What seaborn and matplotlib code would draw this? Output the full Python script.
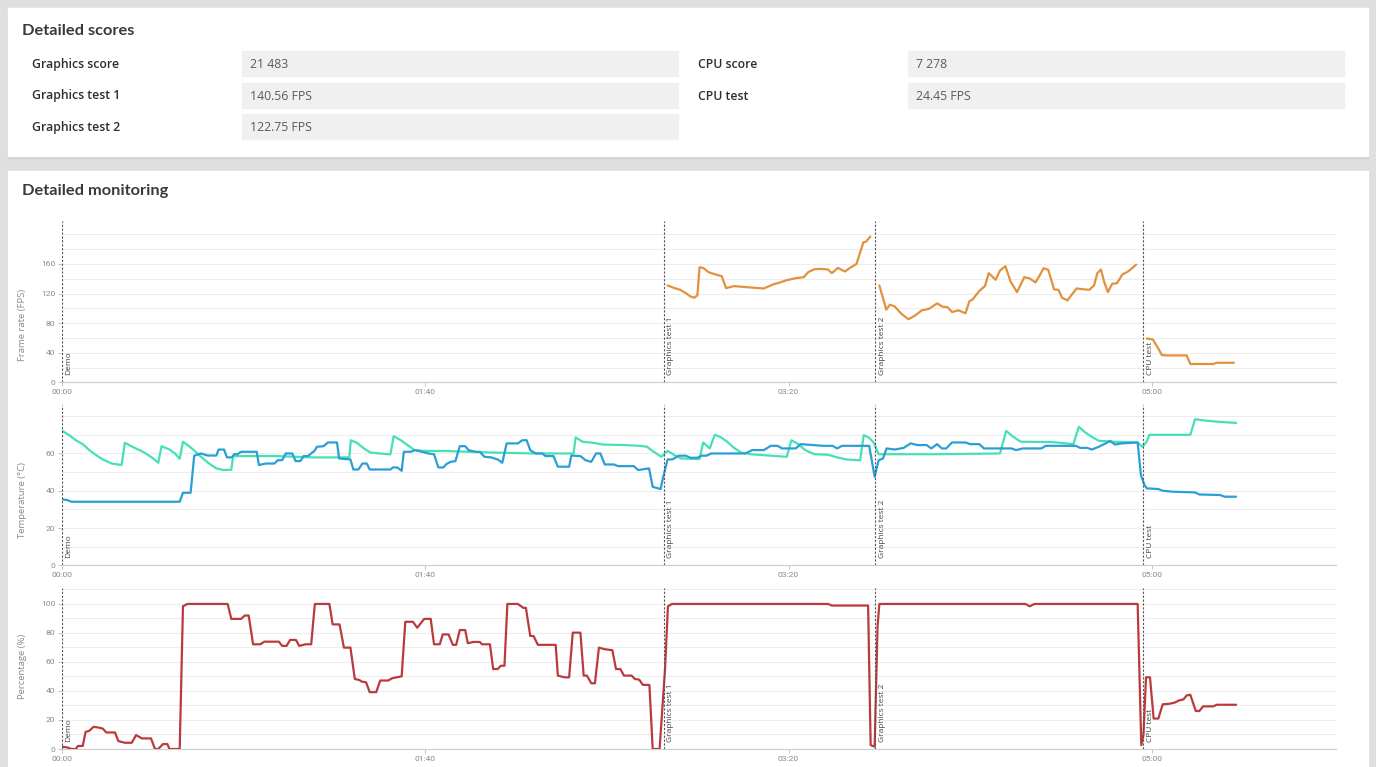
import numpy as np
import pandas as pd
import seaborn as sns
import matplotlib.pyplot as plt
from matplotlib.patches import Rectangle

# ---- scores panel ----
score_labels_left = ['Graphics score', 'Graphics test 1', 'Graphics test 2']
score_values_left = ['21 483', '140.56 FPS', '122.75 FPS']
score_labels_right = ['CPU score', 'CPU test']
score_values_right = ['7 278', '24.45 FPS']

# ---- monitoring ----
marker_names = ['Demo', 'Graphics test 1', 'Graphics test 2', 'CPU test']
marker_times = [0, 165.7, 223.9, 297.7]

x_ticks = [0, 100, 200, 300]
x_tick_labels = ['00:00', '01:40', '03:20', '05:00']

# (seconds, FPS)
fps_gt1 = [(166.7, 130.9), (168.6, 127.3), (170.2, 125), (171.7, 120.6), (173, 116), (174, 114.3),
           (174.9, 117.4), (175.5, 155.5), (176.5, 154.6), (178, 148.8), (179.9, 145.7), (181.6, 143.4),
           (182.8, 127.3), (185, 130), (189.4, 128.2), (193.2, 126.8), (195.7, 132.2), (197.6, 134.9),
           (199.5, 138), (202, 140.7), (204.2, 142.1), (205.4, 148.8), (207.1, 152.8), (209, 153.3),
           (210.9, 152.4), (211.9, 147.5), (213.6, 154.6), (215.5, 149.7), (216.9, 154.6), (218.7, 160),
           (220.6, 189.2), (221.3, 190), (222.5, 196.8)]
fps_gt2 = [(225, 130.9), (226.9, 98.2), (227.9, 104.9), (229.2, 102.6), (231, 92.8), (233, 85.2),
           (234.9, 90.5), (236.7, 97.3), (238.6, 99.1), (240.9, 106.7), (242.4, 102.2), (243.7, 101.7),
           (245, 95), (246.8, 97.3), (248.7, 93.2), (249.8, 109.8), (250.6, 111.6), (252.5, 123.3),
           (254.1, 130.4), (255.1, 147.5), (257, 138.5), (258.2, 151), (259.7, 156.9), (261.1, 136.3),
           (262.9, 121.9), (264.9, 142.1), (266.4, 140.3), (268, 134.9), (269.2, 145.2), (270.2, 154.2),
           (271.5, 152), (273.1, 125.5), (274.3, 125), (275.3, 114.3), (276.8, 110.7), (277.8, 117.4),
           (279.3, 126.8), (281.6, 125.5), (282.8, 125), (284.1, 130.9), (285, 147.5), (286, 152.4),
           (286.9, 135.4), (287.9, 121.9), (289.1, 133.1), (290.4, 134), (291.9, 145.7), (293.6, 150.2),
           (295.7, 159.1)]
fps_cpu = [(298.6, 59.2), (300.3, 57.8), (301.5, 48), (302.8, 36.8), (304.3, 36.3), (309.6, 36.3),
           (310.6, 24.7), (316.9, 24.7), (317.9, 26.4), (322.6, 26.4)]

# (seconds, deg C)
temp_cpu = [(0.1, 72.1), (2, 69.8), (3.8, 67.1), (5.7, 65), (7.5, 61.8), (9.4, 59.1), (11.2, 56.8),
            (13.7, 54.6), (16.4, 53.8), (17.3, 65.7), (19.8, 63.2), (22.3, 60.9), (24.7, 57.9), (26.5, 55),
            (27.4, 63.9), (29.6, 62.1), (31.1, 60), (32.4, 57.1), (33.3, 66.3), (35.2, 63.6), (37, 60.5),
            (38.8, 57.3), (40.7, 54.3), (42.5, 52), (44.4, 51.1), (46.6, 51.3), (47.1, 58.6), (59.1, 58.6),
            (68.9, 57.9), (79.1, 57.9), (79.5, 67.1), (81.2, 65.7), (83.1, 62.7), (84.9, 60.5), (87.4, 60),
            (90.4, 59.5), (91.3, 69.3), (93.5, 66.8), (95.4, 64.1), (97, 61.8), (99.7, 61.4), (105.8, 61.3),
            (118.1, 60.5), (130.4, 60), (140.8, 60), (141.4, 68.6), (143.3, 66.3), (146.4, 65.7),
            (148.8, 64.8), (155, 64.5), (159.1, 64.1), (161, 63.6), (162.9, 60.9), (165, 58.2),
            (166.7, 61.4), (168.6, 59.1), (170.5, 57.3), (175.5, 57), (176.5, 65.9), (178.3, 62.7),
            (179.7, 70), (181.2, 68.9), (183.1, 66.3), (185, 63), (186.9, 60.5), (189.4, 59.6),
            (194.5, 58.9), (199.5, 58.2), (200.8, 67.1), (202.7, 65), (204.6, 61.8), (207.1, 59.6),
            (210.9, 59.3), (213.4, 57.9), (215.9, 56.8), (219.7, 56.3), (220.7, 69.8), (222.2, 68.4),
            (223.5, 65.7), (224.8, 59.6), (241.2, 59.6), (258.2, 60), (259.9, 72.1), (261.6, 69.3),
            (263.9, 66.3), (272.7, 66.1), (278.4, 65), (279.9, 74.3), (281.6, 71.4), (283.5, 68.9),
            (285.4, 66.8), (289.2, 66.3), (296.1, 65.9), (297.4, 63.6), (298.6, 66.3), (299.3, 70),
            (310.6, 70), (311.9, 78.4), (314.4, 77.7), (318.2, 77), (323.2, 76.4)]
temp_gpu = [(0.1, 35.4), (1.4, 35), (2.6, 34.1), (32.4, 34.1), (33.3, 38.9), (35.4, 38.9), (36.4, 58.8),
            (38.2, 60), (40.1, 58.9), (42.5, 58.9), (43.1, 62.1), (44.6, 62.1), (45.4, 57.9), (46.8, 57.9),
            (47.4, 59.6), (48.3, 59.6), (49.3, 60.9), (53.6, 60.9), (54.2, 53.8), (56.1, 54.6), (58.5, 54.6),
            (59.4, 56.4), (60.6, 56.4), (61.6, 60), (63.4, 60), (64.3, 55.9), (65.6, 55.9), (66.5, 58.6),
            (67.7, 58.6), (68.6, 60), (69.5, 61.4), (70.2, 63.6), (72, 63.9), (73.2, 65.9), (75.7, 65.9),
            (76.3, 57.3), (79.4, 56.8), (80.2, 51.4), (81.6, 51.4), (82.7, 54.6), (83.9, 54.6), (84.7, 51.4),
            (90.4, 51.4), (91.1, 52.5), (92.3, 52.5), (93.5, 50.7), (94.1, 60.9), (96, 60.9), (97.2, 61.8),
            (100.9, 60), (102.4, 59.6), (103.6, 52.5), (105, 52.5), (105.8, 54.3), (107, 55.5), (108.3, 55.9),
            (109.5, 63.9), (111, 63.9), (111.9, 61.8), (113.8, 60.9), (115, 60.9), (116.3, 58.2),
            (118.1, 57.9), (119.9, 56.8), (121.2, 55), (122.4, 65.4), (125.5, 65.4), (126.7, 67.1),
            (127.9, 67.1), (128.9, 61.8), (130.4, 60), (132.2, 60), (133.1, 58.6), (135.3, 58.6),
            (136.5, 52.9), (139.6, 52.9), (140.2, 58.9), (142.7, 58.6), (144.1, 56.4), (145.7, 55.5),
            (147, 60), (148.2, 60), (149.4, 54.1), (151.9, 54.1), (153.1, 53.2), (157.4, 53.2), (158.6, 51.1),
            (161.6, 52), (162.6, 42.1), (164.8, 40.9), (165.4, 46.6), (166.7, 56.8), (168, 56.8),
            (169.8, 58.8), (171.7, 58.8), (173, 57.7), (174.9, 57.7), (176.1, 58.8), (177.4, 58.8),
            (178.7, 60), (188.1, 60), (190, 61.8), (193.2, 61.8), (195.1, 64.1), (197, 64.1), (198.2, 62.7),
            (202, 62.7), (203.3, 65), (209.6, 64.1), (212.1, 64.1), (213.4, 62.7), (214.7, 64.1),
            (222.2, 64.1), (223.7, 47.5), (224.8, 56.4), (226, 57.3), (227, 62.7), (229.2, 62.1),
            (231.7, 63), (233.6, 65.4), (235.5, 64.5), (238, 64.5), (239.3, 62.7), (240.9, 65),
            (242.2, 62.7), (243.4, 62.7), (245, 65.9), (248.7, 65.9), (250, 65), (252.5, 65), (253.8, 62.7),
            (261.4, 62.7), (262.6, 61.8), (264.5, 62.7), (269.6, 62.7), (270.8, 64.1), (279.1, 64.1),
            (280.3, 63), (282.2, 63), (283.5, 62.1), (285.4, 63.6), (287.3, 65.4), (288.5, 66.8),
            (289.8, 64.8), (291.7, 65.4), (296.1, 65.9), (297, 48.4), (298, 43), (298.6, 41.3),
            (301.8, 40.9), (303, 40), (305.6, 39.5), (311.9, 39.1), (313.1, 38), (318.8, 37.7),
            (320.1, 36.8), (323.2, 36.8)]

# (seconds, %)
gpu_load = [(0.1, 1.6), (1.4, 1.1), (2.6, 0), (3.8, 0), (4.4, 2.1), (5.7, 2.1), (6.5, 11.8), (7.5, 12.5),
            (8.7, 15.3), (10, 14.8), (11.2, 14.1), (12.2, 11.4), (14.6, 11.4), (15.5, 5.5), (17.3, 4.3),
            (19.2, 4.3), (20.4, 9.6), (22, 7.3), (24.5, 7.3), (25.6, 0), (26.5, 0), (27.8, 3.4), (29, 3.4),
            (29.6, 0), (32.4, 0), (33.3, 98.4), (34.5, 100), (45.6, 100), (46.6, 89.7), (49.3, 89.7),
            (50.3, 92), (51.4, 92), (52.6, 72.2), (54.6, 72.2), (55.7, 74), (59.7, 74), (60.6, 71.1),
            (61.8, 71.1), (62.8, 75.2), (64.4, 75.2), (65.3, 71.1), (67.1, 72.2), (68.6, 72.2), (69.6, 100),
            (73.6, 100), (74.5, 85.9), (76.4, 85.9), (77.6, 69.9), (79.4, 69.9), (80.6, 48.3), (81.8, 47.6),
            (82.5, 46.5), (83.7, 46), (84.7, 39.2), (86.5, 39.2), (87.6, 47.2), (89.8, 47.2), (90.8, 48.7),
            (92, 49.4), (93.5, 50.1), (94.5, 87.7), (96.6, 87.7), (97.8, 83.6), (99.7, 89.7), (101.5, 89.7),
            (102.4, 72.2), (104, 72.2), (104.8, 79), (106.4, 79), (107.6, 71.8), (108.5, 71.8), (109.5, 82),
            (111, 82), (111.7, 72.9), (113.2, 73.8), (115, 73.8), (115.6, 72.2), (117.8, 72.2), (118.7, 55.1),
            (119.9, 55.1), (120.8, 57.4), (121.8, 57.4), (122.6, 100), (125.5, 100), (127, 97.3),
            (127.7, 97.3), (128.9, 77.9), (129.8, 77.9), (131, 71.8), (135.9, 71.8), (136.5, 50.6),
            (138.4, 49.4), (139.6, 49.4), (140.6, 80.2), (142.7, 80.2), (143.6, 50.6), (144.5, 50.6),
            (145.7, 45.3), (146.7, 45.3), (147.8, 69.9), (149.4, 68.8), (151.5, 68.1), (152.5, 55.1),
            (153.7, 55.1), (154.7, 50.6), (156.8, 50.6), (157.7, 48.3), (158.9, 47.8), (159.9, 44.2),
            (161.7, 44.2), (162.6, 0), (164.5, 0), (166, 55.1), (166.8, 98.4), (167.9, 100), (210.9, 100),
            (211.9, 98.9), (221.9, 98.9), (222.6, 2.7), (223.7, 1.6), (224.5, 84.7), (225, 100), (265.2, 100),
            (266.4, 98.4), (267.7, 100), (296.1, 100), (297.1, 2.7), (297.7, 9.6), (298.4, 49.4),
            (299.5, 49.4), (300.5, 21), (301.8, 21), (303, 30.8), (304.9, 31.2), (306.2, 31.9), (307.5, 33.5),
            (308.7, 34.2), (309.6, 36.9), (310.6, 37.4), (312.1, 26.2), (313.1, 26.2), (314.1, 29.4),
            (316.9, 29.4), (317.9, 30.5), (323.2, 30.5)]

fps_df = pd.concat([
    pd.DataFrame(fps_gt1, columns=['t', 'v']).assign(seg='gt1'),
    pd.DataFrame(fps_gt2, columns=['t', 'v']).assign(seg='gt2'),
    pd.DataFrame(fps_cpu, columns=['t', 'v']).assign(seg='cpu'),
])
tcpu_df = pd.DataFrame(temp_cpu, columns=['t', 'v'])
tgpu_df = pd.DataFrame(temp_gpu, columns=['t', 'v'])
load_df = pd.DataFrame(gpu_load, columns=['t', 'v'])

sns.set_theme(style='white')
plt.rcParams['font.family'] = ['Open Sans', 'DejaVu Sans']

W, H = 1376, 767
fig = plt.figure(figsize=(W / 100, H / 100), dpi=100)
fig.patch.set_facecolor('#dfdfdf')

# background layer in pixel coords
bg = fig.add_axes([0, 0, 1, 1])
bg.set_xlim(0, W)
bg.set_ylim(H, 0)
bg.axis('off')
for (y0, y1) in [(8, 156), (171, 775)]:
    bg.add_patch(Rectangle((8, y0 + 1.5), 1360, y1 - y0, color='#cfcfcf', zorder=0))
    bg.add_patch(Rectangle((8, y0), 1360, y1 - y0, color='white', zorder=1))

bg.text(22, 31, 'Detailed scores', fontsize=11.8, fontweight='bold', family='Lato',
        color='#3a3a3a', va='center', ha='left', zorder=3)
bg.text(22, 191, 'Detailed monitoring', fontsize=11.8, fontweight='bold', family='Lato',
        color='#3a3a3a', va='center', ha='left', zorder=3)

row_y = [63.5, 95, 126.5]
for i, (lab, val) in enumerate(zip(score_labels_left, score_values_left)):
    bg.add_patch(Rectangle((242, row_y[i] - 12.5), 436, 25, color='#f0f0f0', zorder=2))
    bg.text(32, row_y[i] + 1, lab, fontsize=8.8, fontweight='semibold', color='#2e2e2e',
            va='center', zorder=3)
    bg.text(250, row_y[i] + 1, val, fontsize=8.8, color='#5a5a5a', va='center', zorder=3)
for i, (lab, val) in enumerate(zip(score_labels_right, score_values_right)):
    bg.add_patch(Rectangle((908, row_y[i] - 12.5), 436, 25, color='#f0f0f0', zorder=2))
    bg.text(698, row_y[i] + 1, lab, fontsize=8.8, fontweight='semibold', color='#2e2e2e',
            va='center', zorder=3)
    bg.text(916, row_y[i] + 1, val, fontsize=8.8, color='#5a5a5a', va='center', zorder=3)


def px_rect(left, top, right, bottom):
    return [left / W, 1 - bottom / H, (right - left) / W, (bottom - top) / H]


panels = [
    dict(rect=px_rect(62, 221, 1336, 382.3), ylim=218, grid=np.arange(20, 201, 20),
         ticks=[0, 40, 80, 120, 160], label='Frame rate (FPS)', lab_y=0.356),
    dict(rect=px_rect(62, 405, 1336, 565.3), ylim=86, grid=np.arange(10, 81, 10),
         ticks=[0, 20, 40, 60], label='Temperature (°C)', lab_y=0.41),
    dict(rect=px_rect(62, 588, 1336, 749), ylim=111, grid=np.arange(10, 111, 10),
         ticks=[0, 20, 40, 60, 80, 100], label='Percentage (%)', lab_y=0.515),
]

axes = []
for p in panels:
    ax = fig.add_axes(p['rect'])
    ax.set_facecolor('none')
    ax.set_xlim(0, 350.7)
    ax.set_ylim(0, p['ylim'])
    for g in p['grid']:
        ax.axhline(g, color='#ededed', lw=0.8, zorder=0)
    for s in ['top', 'right', 'left']:
        ax.spines[s].set_visible(False)
    ax.spines['bottom'].set_color('#d0d0d0')
    ax.spines['bottom'].set_linewidth(0.9)
    ax.set_xticks(x_ticks)
    ax.set_xticklabels(x_tick_labels)
    ax.set_yticks(p['ticks'])
    ax.tick_params(axis='both', length=3, width=0.6, color='#bbbbbb', labelsize=6.1,
                   labelcolor='#8a8a8a', pad=2, left=True, bottom=True)
    for lab in ax.get_xticklabels() + ax.get_yticklabels():
        lab.set_family('Roboto')
    for name, t in zip(marker_names, marker_times):
        ax.axvline(t, color='#555555', lw=0.8, ls=(0, (2, 1.5)), zorder=4)
        ax.annotate(name, xy=(t, 0), xycoords=('data', 'axes fraction'), xytext=(2.5, 5),
                    textcoords='offset points', rotation=90, ha='left', va='bottom',
                    fontsize=6, color='#444444', zorder=5)
    axes.append(ax)

sns.lineplot(data=fps_df, x='t', y='v', units='seg', estimator=None, sort=False,
             color='#e2913e', lw=1.6, ax=axes[0], zorder=3)
sns.lineplot(data=tcpu_df, x='t', y='v', estimator=None, sort=False,
             color='#46e0b8', lw=1.6, ax=axes[1], zorder=3)
sns.lineplot(data=tgpu_df, x='t', y='v', estimator=None, sort=False,
             color='#2a9fd6', lw=1.6, ax=axes[1], zorder=3)
sns.lineplot(data=load_df, x='t', y='v', estimator=None, sort=False,
             color='#bb3a3e', lw=1.6, ax=axes[2], zorder=3)

for ax, p in zip(axes, panels):
    ax.set_ylabel(p['label'], fontsize=6.8, color='#8a8a8a')
    ax.yaxis.set_label_coords(-0.0275, p['lab_y'])
    ax.set_xlabel('')

fig.savefig('out.png', dpi=100, facecolor=fig.get_facecolor())
